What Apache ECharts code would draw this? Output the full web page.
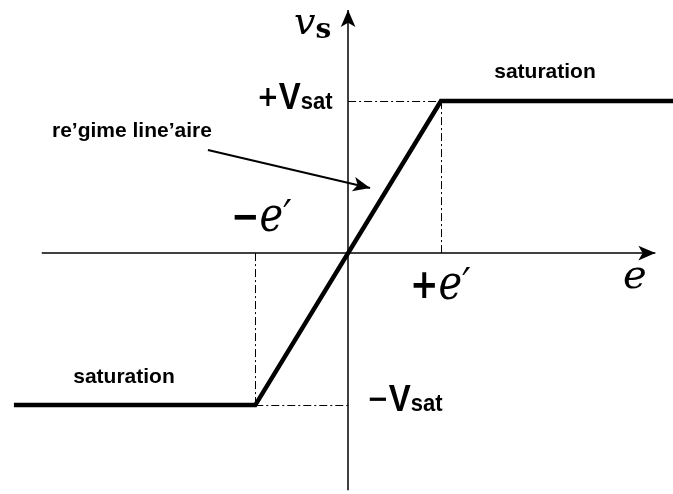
<!DOCTYPE html>
<html>
<head>
<meta charset="utf-8">
<script src="https://cdn.jsdelivr.net/npm/echarts@6/dist/echarts.min.js"></script>
<style>
  html, body { margin: 0; padding: 0; background: #fff; }
  #chart { width: 673px; height: 494px; }
</style>
</head>
<body>
<div id="chart"></div>
<script>
// transfer characteristic of a saturating amplifier (e' = 1, Vsat = 1)
const curveE = [-3.6, -1, 1, 3.5];
const curveVs = [-1, -1, 1, 1];
const ePrime = 1;
const vSat = 1;

const chart = echarts.init(document.getElementById('chart'));

const dashDot = { color: '#000', width: 1, type: [8, 3, 2, 3] };
const axisStyle = { color: '#000', width: 1.5, type: 'solid' };

const bold = 'bold 21px "Liberation Sans", Arial, sans-serif';

function txt(x, y, text, font, align) {
  return {
    type: 'text', x: x, y: y,
    style: { text: text, font: font, fill: '#000', align: align || 'left', verticalAlign: 'middle' }
  };
}

function richTxt(x, y, text, rich, sy) {
  return {
    type: 'text', x: x, y: y, scaleY: sy || 1,
    style: { text: text, rich: rich, fill: '#000', verticalAlign: 'middle' }
  };
}

const vsatRich = {
  sign: { font: 'bold 26px "DejaVu Sans", sans-serif', fill: '#000' },
  big: { font: 'bold 33px "Liberation Sans", Arial, sans-serif', fill: '#000' },
  sub: { font: 'bold 22px "Liberation Sans", Arial, sans-serif', fill: '#000', padding: [6, 0, 0, 0] }
};

const eRich = {
  sign: { font: 'bold 34px "DejaVu Sans", sans-serif', fill: '#000' },
  e: { font: 'italic 40px "DejaVu Serif", serif', fill: '#000' },
  p: { font: 'italic 36px "DejaVu Sans", sans-serif', fill: '#000' }
};

chart.setOption({
  animation: false,
  grid: { left: 0, right: 0, top: 0, bottom: 0 },
  xAxis: { type: 'value', min: -3.75, max: 3.5, show: false },
  yAxis: { type: 'value', min: -1.585, max: 1.665, show: false },
  series: [
    {
      type: 'line',
      data: curveE.map((e, i) => [e, curveVs[i]]),
      symbol: 'none',
      lineStyle: { color: '#000', width: 4.5, join: 'miter' },
      z: 5,
      markLine: {
        silent: true,
        symbol: ['none', 'none'],
        label: { show: false },
        lineStyle: dashDot,
        data: [
          [{ coord: [0, vSat] }, { coord: [ePrime, vSat] }],
          [{ coord: [ePrime, vSat] }, { coord: [ePrime, 0] }],
          [{ coord: [-ePrime, -vSat] }, { coord: [0, -vSat] }],
          [{ coord: [-ePrime, -vSat] }, { coord: [-ePrime, 0] }]
        ]
      }
    },
    {
      // axes and pointer arrow
      type: 'line',
      data: [],
      markLine: {
        silent: true,
        symbol: ['none', 'arrow'],
        symbolSize: [11, 17],
        label: { show: false },
        lineStyle: axisStyle,
        data: [
          [{ coord: [-3.3, 0] }, { coord: [3.31, 0] }],
          [{ coord: [0, -1.56] }, { coord: [0, 1.6] }],
          [{ coord: [-1.51, 0.678], lineStyle: { width: 2 } }, { coord: [0.237, 0.428] }]
        ]
      }
    }
  ],
  graphic: [
    richTxt(294, 24, '{v|v}{s|s}', {
      v: { font: 'italic 38px "DejaVu Serif", serif', fill: '#000' },
      s: { font: 'bold 28px "DejaVu Serif", serif', fill: '#000', padding: [14, 0, 0, 0] }
    }),
    richTxt(257, 99, '{sign|+}{big|V}{sub|sat}', vsatRich, 1.1),
    richTxt(367, 401, '{sign|−}{big|V}{sub|sat}', vsatRich, 1.1),
    txt(545, 72, 'saturation', bold, 'center'),
    txt(124, 377, 'saturation', bold, 'center'),
    txt(52, 131, 're’gime line’aire', bold),
    richTxt(231, 219, '{sign|−}{e|e}{p|′}', eRich, 1.2),
    richTxt(410, 287, '{sign|+}{e|e}{p|′}', eRich, 1.2),
    richTxt(623, 278, '{e|e}', eRich, 1.0)
  ]
});
</script>
</body>
</html>
